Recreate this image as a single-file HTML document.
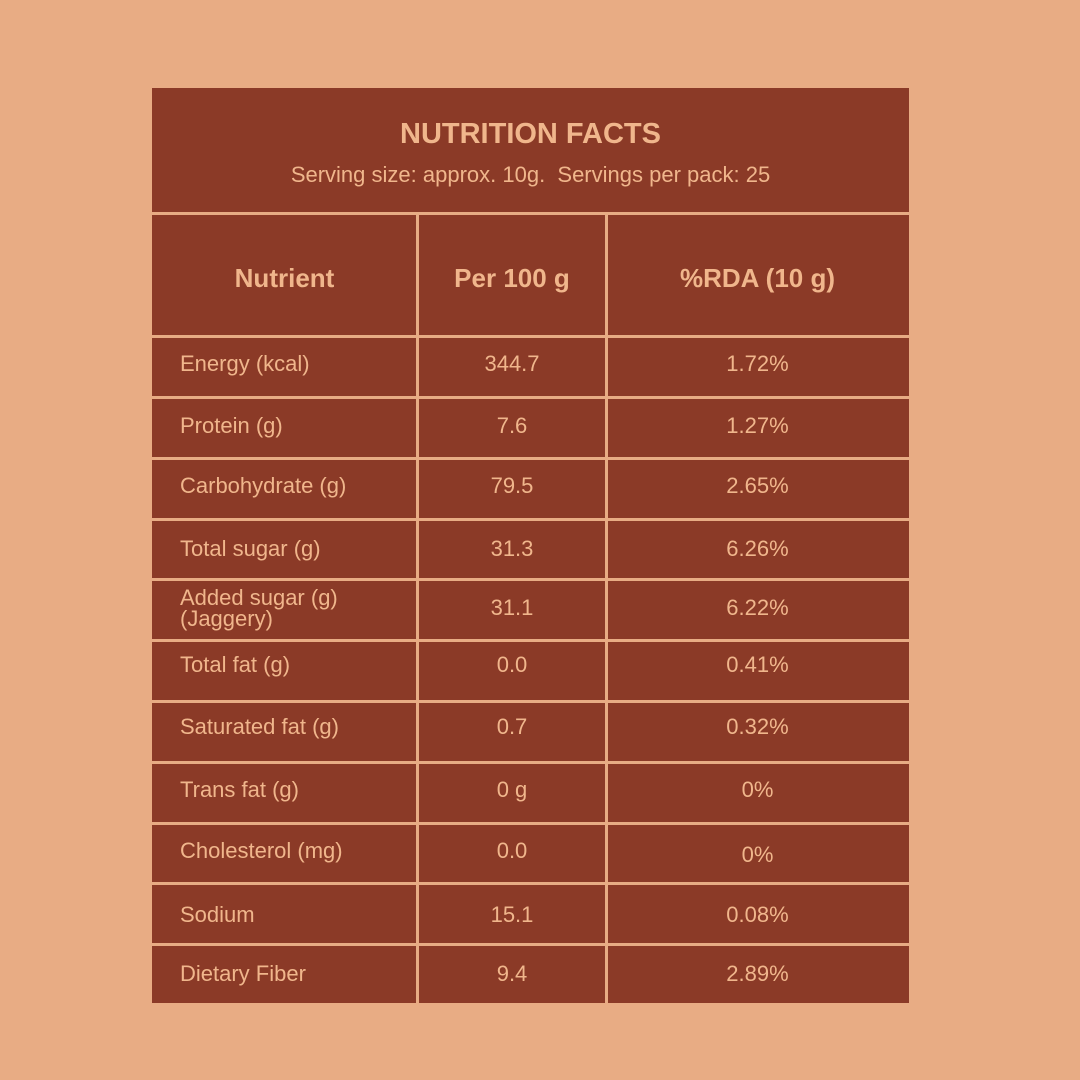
<!DOCTYPE html>
<html><head><style>
body{margin:0;width:1080px;height:1080px;background:#e8ac84;position:relative;overflow:hidden;font-family:"Liberation Sans","DejaVu Sans",sans-serif;color:#f0b68c}
.box{position:absolute;left:152px;top:88px;width:757px;height:915px;background:#8b3a27}
.h{position:absolute;left:152px;width:757px;height:3px;background:#e8ac84}
.v{position:absolute;top:213px;width:3px;height:790px;background:#e8ac84}
.t{position:absolute;white-space:nowrap;font-size:22px;line-height:26px}
.c2{left:418px;width:188px;text-align:center}
.c3{left:606px;width:303px;text-align:center}
</style></head><body>
<div class="box"></div>
<div class="t" style="left:152px;width:757px;top:116px;text-align:center;font-size:29px;font-weight:bold;line-height:36px">NUTRITION FACTS</div>
<div class="t" style="left:152px;width:757px;top:162px;text-align:center;font-size:22px">Serving size: approx. 10g.&nbsp; Servings per pack: 25</div>
<div class="h" style="top:212px"></div>
<div class="h" style="top:335px"></div>
<div class="h" style="top:396px"></div>
<div class="h" style="top:457px"></div>
<div class="h" style="top:518px"></div>
<div class="h" style="top:578px"></div>
<div class="h" style="top:639px"></div>
<div class="h" style="top:700px"></div>
<div class="h" style="top:761px"></div>
<div class="h" style="top:822px"></div>
<div class="h" style="top:882px"></div>
<div class="h" style="top:943px"></div>
<div class="v" style="left:416px"></div>
<div class="v" style="left:605px"></div>
<div class="t" style="left:152px;width:265px;text-align:center;top:263px;font-size:26px;font-weight:bold;line-height:30px">Nutrient</div>
<div class="t c2" style="top:263px;font-size:26px;font-weight:bold;line-height:30px">Per 100 g</div>
<div class="t c3" style="top:263px;font-size:26px;font-weight:bold;line-height:30px">%RDA (10 g)</div>

<div class="t" style="left:180px;top:351px">Energy (kcal)</div><div class="t c2" style="top:351px">344.7</div><div class="t c3" style="top:351px">1.72%</div>
<div class="t" style="left:180px;top:413px">Protein (g)</div><div class="t c2" style="top:413px">7.6</div><div class="t c3" style="top:413px">1.27%</div>
<div class="t" style="left:180px;top:473px">Carbohydrate (g)</div><div class="t c2" style="top:473px">79.5</div><div class="t c3" style="top:473px">2.65%</div>
<div class="t" style="left:180px;top:536px">Total sugar (g)</div><div class="t c2" style="top:536px">31.3</div><div class="t c3" style="top:536px">6.26%</div>
<div class="t" style="left:180px;top:587px;line-height:21px">Added sugar (g)<br>(Jaggery)</div><div class="t c2" style="top:595px">31.1</div><div class="t c3" style="top:595px">6.22%</div>
<div class="t" style="left:180px;top:652px">Total fat (g)</div><div class="t c2" style="top:652px">0.0</div><div class="t c3" style="top:652px">0.41%</div>
<div class="t" style="left:180px;top:714px">Saturated fat (g)</div><div class="t c2" style="top:714px">0.7</div><div class="t c3" style="top:714px">0.32%</div>
<div class="t" style="left:180px;top:777px">Trans fat (g)</div><div class="t c2" style="top:777px">0 g</div><div class="t c3" style="top:777px">0%</div>
<div class="t" style="left:180px;top:838px">Cholesterol (mg)</div><div class="t c2" style="top:838px">0.0</div><div class="t c3" style="top:842px">0%</div>
<div class="t" style="left:180px;top:902px">Sodium</div><div class="t c2" style="top:902px">15.1</div><div class="t c3" style="top:902px">0.08%</div>
<div class="t" style="left:180px;top:961px">Dietary Fiber</div><div class="t c2" style="top:961px">9.4</div><div class="t c3" style="top:961px">2.89%</div>
</body></html>
